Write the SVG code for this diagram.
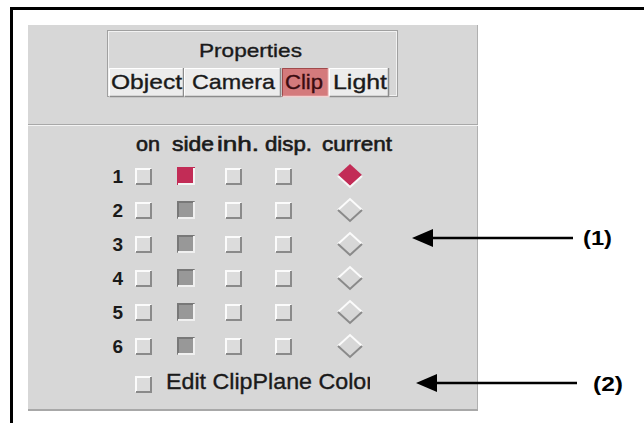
<svg xmlns="http://www.w3.org/2000/svg" width="644" height="423" viewBox="0 0 644 423">
<defs>
<style>
.t{font-family:"Liberation Sans",Arial,sans-serif;fill:#1a1a1a;stroke:#1a1a1a;stroke-width:0.35}
.hd{font-size:20px;stroke-width:0.6}
.num{font-size:19px;font-weight:bold;stroke-width:0}
.btn{font-size:21px}
.lbl{font-size:21px;font-weight:bold;fill:#000;stroke-width:0}
.cb{fill:#dcdcdc}
.hi{stroke:#fbfbfb;stroke-width:2;fill:none}
.lo{stroke:#8a8a8a;stroke-width:2;fill:none}
.conn{stroke:#000;stroke-width:2.5;fill:none}
</style>
<g id="chk">
<rect class="cb" x="0" y="0" width="17" height="17"/>
<path class="hi" d="M1,16 V1 H16"/>
<path class="lo" d="M1,16 H16 V1"/>
</g>
<g id="side">
<rect x="0" y="0" width="18" height="18" fill="#989898"/>
<path d="M1,17 V1 H17" stroke="#787878" stroke-width="2" fill="none"/>
<path d="M1,17 H17 V1" stroke="#f0f0f0" stroke-width="2" fill="none"/>
</g>
<g id="dia">
<path d="M-12,0 L0,-11 L12,0" stroke="#fbfbfb" stroke-width="2" fill="none"/>
<path d="M-12,0 L0,11 L12,0" stroke="#8a8a8a" stroke-width="2" fill="none"/>
</g>
<clipPath id="clipEdit"><rect x="150" y="360" width="220" height="40"/></clipPath>
</defs>

<!-- outer frame -->
<rect x="0" y="0" width="644" height="423" fill="#ffffff"/>
<path d="M11.5,423 V8.5 H644" stroke="#000" stroke-width="3" fill="none"/>

<!-- panel -->
<g id="panel">
<rect x="28" y="25" width="450" height="385" fill="#d7d7d7"/>
<line x1="477.5" y1="25" x2="477.5" y2="411" stroke="#b0b0b0" stroke-width="1"/>
<line x1="28" y1="410" x2="478" y2="410" stroke="#a8a8a8" stroke-width="2"/>
<line x1="28" y1="124.5" x2="478" y2="124.5" stroke="#a8a8a8" stroke-width="1"/>
<line x1="28" y1="125.5" x2="478" y2="125.5" stroke="#f4f4f4" stroke-width="1"/>
</g>

<!-- properties box -->
<g id="properties">
<rect x="107.5" y="30.5" width="290" height="66" fill="none" stroke="#a0a0a0"/>
<rect x="108.5" y="31.5" width="288" height="64" fill="none" stroke="#f2f2f2"/>
<text class="t" x="199" y="57" font-size="19" textLength="103" lengthAdjust="spacingAndGlyphs">Properties</text>
</g>
<g id="btn-object">
<rect x="109" y="68" width="75" height="29" fill="#ececec"/>
<path d="M109.5,97 V68.5 H184" stroke="#fff" fill="none"/>
<path d="M109.5,96.5 H183.5 V68" stroke="#8c8c8c" stroke-width="1.5" fill="none"/>
<text class="t btn" x="111" y="89" textLength="71" lengthAdjust="spacingAndGlyphs">Object</text>
</g>
<g id="btn-camera">
<rect x="184" y="68" width="97" height="29" fill="#ececec"/>
<path d="M184.5,97 V68.5 H281" stroke="#fff" fill="none"/>
<path d="M184.5,96.5 H280.5 V68" stroke="#8c8c8c" stroke-width="1.5" fill="none"/>
<text class="t btn" x="192" y="89" textLength="83" lengthAdjust="spacingAndGlyphs">Camera</text>
</g>
<g id="btn-clip">
<rect x="282" y="68" width="47" height="29" fill="#d47a7c"/>
<path d="M282.5,97 V68.5 H329" stroke="#a04a4c" fill="none"/>
<path d="M282.5,96.5 H328.5 V68" stroke="#f2d0d0" stroke-width="1.5" fill="none"/>
<text class="t btn" x="285" y="89" textLength="38" lengthAdjust="spacingAndGlyphs" style="fill:#3a0c10;stroke:#3a0c10">Clip</text>
</g>
<g id="btn-light">
<rect x="329" y="68" width="60" height="29" fill="#ececec"/>
<path d="M329.5,97 V68.5 H389" stroke="#fff" fill="none"/>
<path d="M329.5,96.5 H388.5 V68" stroke="#8c8c8c" stroke-width="1.5" fill="none"/>
<text class="t btn" x="333" y="89" textLength="54" lengthAdjust="spacingAndGlyphs">Light</text>
</g>

<!-- column headers -->
<g id="headers">
<text class="t hd" x="136" y="151" textLength="24" lengthAdjust="spacingAndGlyphs">on</text>
<text class="t hd" x="172" y="151" textLength="42" lengthAdjust="spacingAndGlyphs">side</text>
<text class="t hd" x="217" y="151" textLength="42" lengthAdjust="spacingAndGlyphs">inh.</text>
<text class="t hd" x="265" y="151" textLength="47" lengthAdjust="spacingAndGlyphs">disp.</text>
<text class="t hd" x="322" y="151" textLength="70" lengthAdjust="spacingAndGlyphs">current</text>
</g>

<!-- rows -->
<g id="row1">
<text class="t num" x="123" y="183" text-anchor="end">1</text>
<use href="#chk" x="135" y="168"/>
<rect x="177" y="167" width="18" height="18" fill="#c22c56"/>
<path d="M178,184 H194 V168" stroke="#f4f4f4" stroke-width="2" fill="none"/>
<use href="#chk" x="225" y="168"/>
<use href="#chk" x="275" y="168"/>
<path d="M338,175 L350,164 L362,175 L350,186 Z" fill="#c22c56"/>
<path d="M338,176 L350,187 L362,176" stroke="#f6f6f6" stroke-width="2" fill="none"/>
</g>
<g id="row2">
<text class="t num" x="123" y="217" text-anchor="end">2</text>
<use href="#chk" x="135" y="202"/>
<use href="#side" x="177" y="201"/>
<use href="#chk" x="225" y="202"/>
<use href="#chk" x="275" y="202"/>
<use href="#dia" x="350" y="210"/>
</g>
<g id="row3">
<text class="t num" x="123" y="251" text-anchor="end">3</text>
<use href="#chk" x="135" y="236"/>
<use href="#side" x="177" y="235"/>
<use href="#chk" x="225" y="236"/>
<use href="#chk" x="275" y="236"/>
<use href="#dia" x="350" y="244"/>
</g>
<g id="row4">
<text class="t num" x="123" y="285" text-anchor="end">4</text>
<use href="#chk" x="135" y="270"/>
<use href="#side" x="177" y="269"/>
<use href="#chk" x="225" y="270"/>
<use href="#chk" x="275" y="270"/>
<use href="#dia" x="350" y="278"/>
</g>
<g id="row5">
<text class="t num" x="123" y="319" text-anchor="end">5</text>
<use href="#chk" x="135" y="304"/>
<use href="#side" x="177" y="303"/>
<use href="#chk" x="225" y="304"/>
<use href="#chk" x="275" y="304"/>
<use href="#dia" x="350" y="312"/>
</g>
<g id="row6">
<text class="t num" x="123" y="353" text-anchor="end">6</text>
<use href="#chk" x="135" y="338"/>
<use href="#side" x="177" y="337"/>
<use href="#chk" x="225" y="338"/>
<use href="#chk" x="275" y="338"/>
<use href="#dia" x="350" y="346"/>
</g>

<!-- edit clip plane color -->
<g id="edit-color">
<use href="#chk" x="135" y="376"/>
<text class="t" x="166" y="389" font-size="22" textLength="208" lengthAdjust="spacingAndGlyphs" clip-path="url(#clipEdit)">Edit ClipPlane Color</text>
</g>

<!-- callouts -->
<g id="connectors">
<line class="conn" x1="428" y1="238" x2="573" y2="238"/>
<path d="M412,238 L433,229 L433,247 Z" fill="#000"/>
<line class="conn" x1="432" y1="383" x2="577" y2="383"/>
<path d="M416,383 L437,374 L437,392 Z" fill="#000"/>
</g>
<g id="label1">
<text class="t lbl" x="583" y="245" textLength="29" lengthAdjust="spacingAndGlyphs">(1)</text>
</g>
<g id="label2">
<text class="t lbl" x="593" y="391" textLength="30" lengthAdjust="spacingAndGlyphs">(2)</text>
</g>
</svg>
